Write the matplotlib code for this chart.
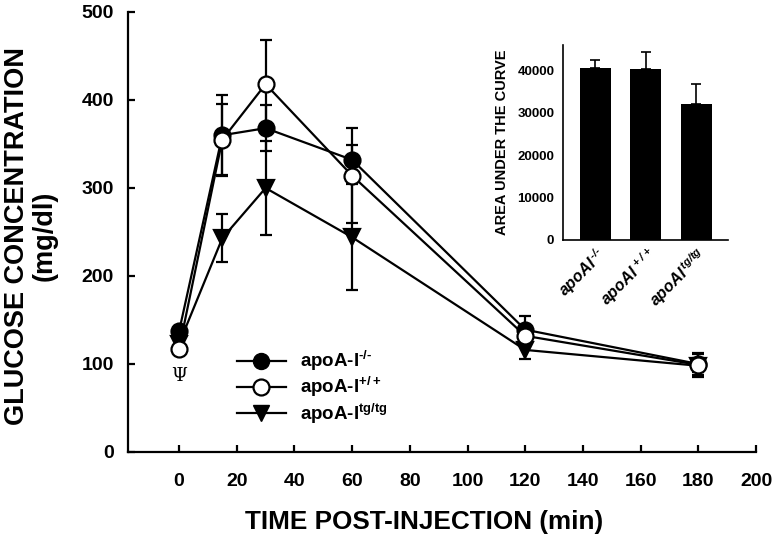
import matplotlib
matplotlib.use("Agg")
import matplotlib.pyplot as plt
from matplotlib.lines import Line2D

plt.rcParams['font.family'] = ['Liberation Sans', 'DejaVu Sans']
plt.rcParams['font.weight'] = 'bold'
plt.rcParams['mathtext.default'] = 'regular'

# ---- data ----
time_min = [0, 15, 30, 60, 120, 180]
ko_mean = [137, 360, 368, 332, 139, 100]
ko_err = [6, 46, 26, 17, 15, 12]
wt_mean = [117, 355, 418, 314, 132, 99]
wt_err = [5, 40, 50, 54, 12, 8]
tg_mean = [123, 243, 300, 244, 116, 98]
tg_err = [5, 27, 53, 60, 10, 13]
series_labels = ['apoA-I$^{\u2010/\u2010}$', 'apoA-I$^{+/+}$', 'apoA-I$^{tg/tg}$']

auc_groups = ['apoAI$^{\\,\u2010/\u2010}$', 'apoAI$^{\\,+/+}$', 'apoAI$^{\\,tg/tg}$']
auc_mean = [40600, 40300, 32000]
auc_err = [1750, 3850, 4700]

xticks = [0, 20, 40, 60, 80, 100, 120, 140, 160, 180, 200]
yticks = [0, 100, 200, 300, 400, 500]
auc_yticks = [0, 10000, 20000, 30000, 40000]

fig = plt.figure(figsize=(7.76, 5.39), dpi=100)
ax = fig.add_axes([128/776, 87/539, 628/776, 440/539])

common = dict(color='black', linewidth=1.6, capsize=4.5, capthick=1.6,
              elinewidth=1.6, markersize=11.5, markeredgewidth=1.6)
ax.errorbar(time_min, tg_mean, yerr=tg_err, marker='v', markerfacecolor='black',
            markeredgecolor='black', zorder=3, **common)
ax.errorbar(time_min, ko_mean, yerr=ko_err, marker='o', markerfacecolor='black',
            markeredgecolor='black', zorder=4, **common)
ax.errorbar(time_min, wt_mean, yerr=wt_err, marker='o', markerfacecolor='white',
            markeredgecolor='black', zorder=5, **common)

ax.set_xlim(-17.7, 200)
ax.set_ylim(0, 500)
ax.set_xticks(xticks)
ax.set_yticks(yticks)
ax.spines['top'].set_visible(False)
ax.spines['right'].set_visible(False)
for s in ['left', 'bottom']:
    ax.spines[s].set_linewidth(1.6)
ax.tick_params(direction='in', length=5, width=1.6, labelsize=14)
ax.tick_params(axis='x', pad=15)
ax.tick_params(axis='y', pad=10)
for lab in ax.get_xticklabels() + ax.get_yticklabels():
    lab.set_fontweight('bold')

ax.text(0, 86, 'Ψ', family='DejaVu Serif', fontsize=13, fontweight='normal',
        ha='center', va='center')

fig.text(424/776, (539-522)/539, 'TIME POST-INJECTION (min)', fontsize=18.8,
         fontweight='bold', ha='center', va='center')
fig.text(31/776, (539-236)/539, 'GLUCOSE CONCENTRATION\n(mg/dl)', fontsize=19.5,
         fontweight='bold', ha='center', va='center', rotation=90,
         multialignment='center', linespacing=1.1)

handles = [
    Line2D([], [], color='black', lw=1.6, marker='o', markerfacecolor='black',
           markeredgecolor='black', markersize=11.5),
    Line2D([], [], color='black', lw=1.6, marker='o', markerfacecolor='white',
           markeredgecolor='black', markersize=11.5, markeredgewidth=1.6),
    Line2D([], [], color='black', lw=1.6, marker='v', markerfacecolor='black',
           markeredgecolor='black', markersize=11.5),
]
leg = ax.legend(handles, series_labels, loc='upper left',
                bbox_to_anchor=((237-128)/628, (452-349)/440), frameon=False,
                handlelength=2.6, handletextpad=0.75, labelspacing=0.12,
                borderpad=0.0, borderaxespad=0.0,
                prop={'weight': 'bold', 'size': 13.5})

# ---- inset ----
ax2 = fig.add_axes([562.7/776, (539-240)/539, (728-562.7)/776, 195/539])
xpos = [0, 1, 2]
ax2.bar(xpos, auc_mean, width=0.61, color='black', zorder=2)
ax2.errorbar(xpos, auc_mean, yerr=[[0, 0, 0], auc_err], fmt='none',
             ecolor='black', elinewidth=1.2, capsize=3.5, capthick=1.2, zorder=1)
ax2.set_xlim(-0.65, 2.63)
ax2.set_ylim(0, 45900)
ax2.set_yticks(auc_yticks)
ax2.set_xticks(xpos)
ax2.spines['top'].set_visible(False)
ax2.spines['right'].set_visible(False)
for s in ['left', 'bottom']:
    ax2.spines[s].set_linewidth(1.2)
ax2.tick_params(axis='both', length=0)
ax2.tick_params(axis='y', pad=6, labelsize=9.5)
ax2.tick_params(axis='x', pad=3)
ax2.set_xticklabels(auc_groups, rotation=45, ha='right', rotation_mode='anchor',
                    fontsize=11.5, fontweight='bold', fontstyle='italic')
for lab in ax2.get_yticklabels():
    lab.set_fontweight('bold')
ax2.set_ylabel('AREA UNDER THE CURVE', fontsize=10.5, fontweight='bold', labelpad=6)

fig.savefig('out.png', dpi=100)
